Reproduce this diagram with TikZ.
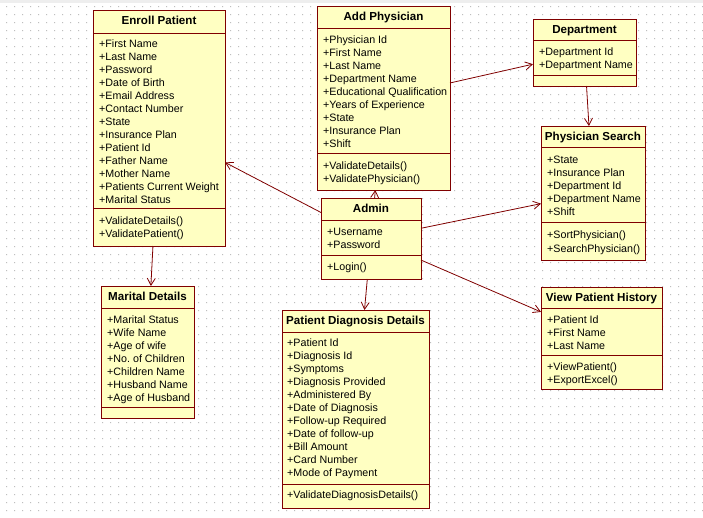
\documentclass[tikz,border=0pt]{standalone}
\usepackage{fontspec}
\setmainfont{Liberation Sans}
\usetikzlibrary{arrows.meta}
\frenchspacing
\definecolor{boxfill}{RGB}{255,255,194}
\definecolor{boxline}{RGB}{128,0,0}
\definecolor{dotc}{RGB}{190,190,190}
\definecolor{topstrip}{RGB}{238,238,238}
\tikzset{
  cls/.style={draw=boxline, fill=boxfill, line width=1pt, inner sep=0pt, outer sep=0pt, rectangle},
  ttl/.style={anchor=base, inner sep=0pt, font=\bfseries\fontsize{11.6}{13}\selectfont},
  itm/.style={anchor=base west, inner sep=0pt, font=\fontsize{10.7}{13}\selectfont},
  sepl/.style={draw=boxline, line width=1pt},
  conn/.style={draw=boxline, line width=0.8pt, -{Straight Barb[length=7pt,width=8pt]}},
}
\newcommand\umlcls[6]{%
  \node[cls, minimum width={#4-#2}, minimum height={#5-#3}] (#1) at ({(#2+#4)/2},{(#3+#5)/2}) {};
  \node[ttl] (#1-t) at ({(#2+#4)/2},{#3+14.5}) {#6};
}
\newcommand\umlsep[2]{\draw[sepl] (#1.west |- 0,#2) -- (#1.east |- 0,#2);}
\newcommand\umlitems[5]{%
  \foreach \txt [count=\k] in {#5} {\node[itm] (#1\k) at (#2,{#3+4+#4*(\k-1)}) {\txt};}}
\begin{document}
\begin{tikzpicture}[x=1pt,y=-1pt]
\useasboundingbox (0,0) rectangle (703,517);
\fill[white] (0,0) rectangle (703,517);
\fill[topstrip] (0,0) rectangle (703,3);
\path[fill=dotc] \foreach \i in {0,...,87} {\foreach \j in {0,...,63} {(6+8*\i,6+8*\j) rectangle ++(1,1)}};

% Enroll Patient
\umlcls{ep}{93}{10}{225}{246}{Enroll Patient}
\umlsep{ep}{33}\umlsep{ep}{208}
\umlitems{ep-a}{99}{43.5}{13}{+First Name,+Last Name,+Password,+Date of Birth,+Email Address,+Contact Number,+State,+Insurance Plan,+Patient Id,+Father Name,+Mother Name,+Patients Current Weight,+Marital Status}
\umlitems{ep-m}{99}{220.5}{13}{+ValidateDetails(),+ValidatePatient()}

% Add Physician
\umlcls{ap}{317}{6}{450}{190}{Add Physician}
\umlsep{ap}{28}\umlsep{ap}{153}
\umlitems{ap-a}{323}{39.5}{13}{+Physician Id,+First Name,+Last Name,+Department Name,+Educational Qualification,+Years of Experience,+State,+Insurance Plan,+Shift}
\umlitems{ap-m}{323}{165}{13}{+ValidateDetails(),+ValidatePhysician()}

% Department
\umlcls{dp}{533}{19}{636}{86}{Department}
\umlsep{dp}{40}\umlsep{dp}{75}
\umlitems{dp-a}{539}{51}{13}{+Department Id,+Department Name}

% Physician Search
\umlcls{ps}{541}{126}{645}{260}{Physician Search}
\umlsep{ps}{147}\umlsep{ps}{222}
\umlitems{ps-a}{547}{159}{13}{+State,+Insurance Plan,+Department Id,+Department Name,+Shift}
\umlitems{ps-m}{547}{234}{14.5}{+SortPhysician(),+SearchPhysician()}

% Admin
\umlcls{ad}{321}{198}{421}{279}{Admin}
\umlsep{ad}{220}\umlsep{ad}{255}
\umlitems{ad-a}{327}{231}{13}{+Username,+Password}
\umlitems{ad-m}{327}{266}{13}{+Login()}

% Marital Details
\umlcls{md}{101}{286}{194}{418}{Marital Details}
\umlsep{md}{308}\umlsep{md}{407}
\umlitems{md-a}{107}{319}{13}{+Marital Status,+Wife Name,+Age of wife,+No. of Children,+Children Name,+Husband Name,+Age of Husband}

% Patient Diagnosis Details
\umlcls{pdd}{282}{310}{429}{508}{Patient Diagnosis Details}
\umlsep{pdd}{332}\umlsep{pdd}{484}
\umlitems{pdd-a}{287}{342.5}{13}{+Patient Id,+Diagnosis Id,+Symptoms,+Diagnosis Provided,+Administered By,+Date of Diagnosis,+Follow-up Required,+Date of follow-up,+Bill Amount,+Card Number,+Mode of Payment}
\umlitems{pdd-m}{287}{494.5}{13}{+ValidateDiagnosisDetails()}

% View Patient History
\umlcls{vph}{541}{287}{662}{389}{View Patient History}
\umlsep{vph}{308}\umlsep{vph}{355}
\umlitems{vph-a}{547}{319}{13}{+Patient Id,+First Name,+Last Name}
\umlitems{vph-m}{547}{366}{13}{+ViewPatient(),+ExportExcel()}

% connectors
\draw[conn] (ad) -- (ep);
\draw[conn] (ad) -- (ap);
\draw[conn] (ap) -- (dp);
\draw[conn] (dp) -- (ps);
\draw[conn] (ad) -- (ps);
\draw[conn] (ad) -- (vph);
\draw[conn] (ep) -- (md);
\draw[conn] (ad) -- (pdd);
\end{tikzpicture}
\end{document}
